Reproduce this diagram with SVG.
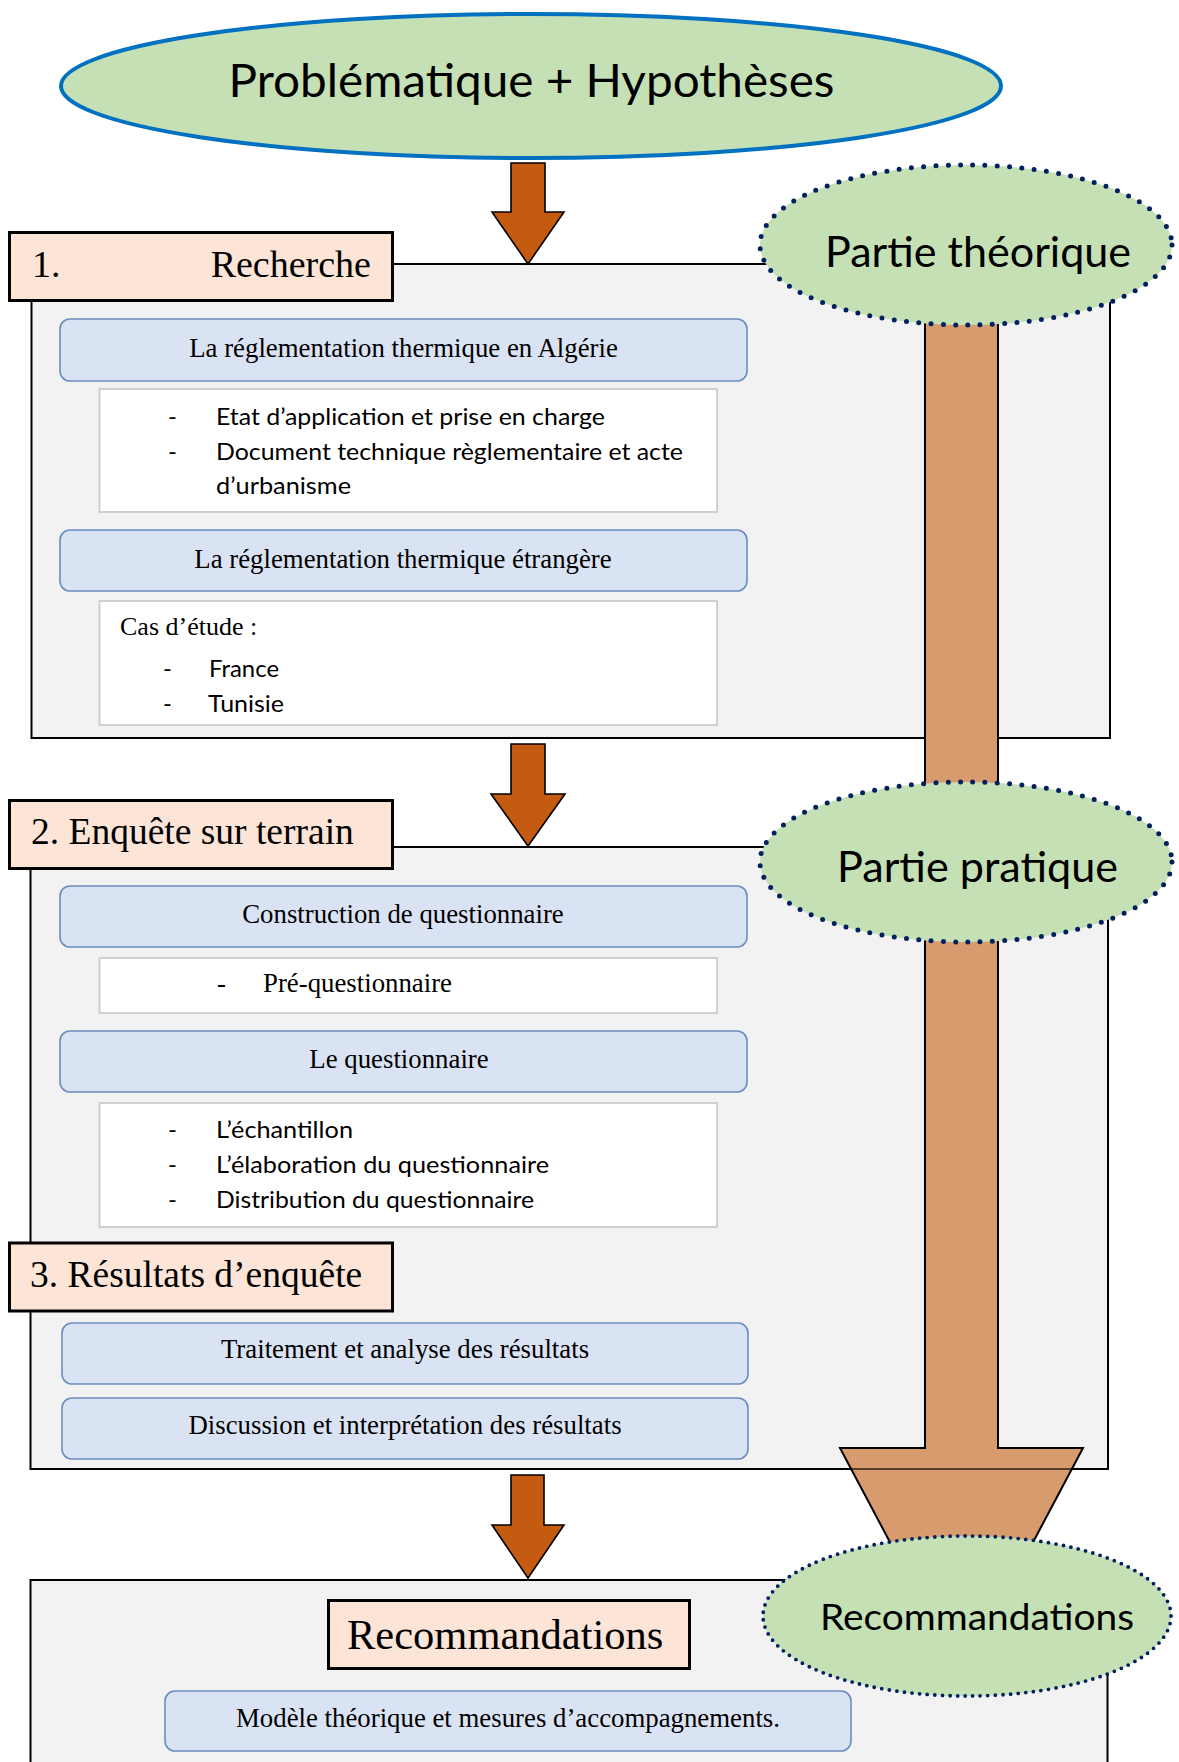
<svg xmlns="http://www.w3.org/2000/svg" width="1179" height="1762" viewBox="0 0 1179 1762">
<style>
.bg{fill:#ffffff}
.cont{fill:#f2f2f2;stroke:#000;stroke-width:2}
.lab{fill:#fce4d6;stroke:#000;stroke-width:3}
.blue{fill:#dae3f3;stroke:#6b8cc0;stroke-width:1.6}
.white{fill:#ffffff;stroke:#d0cece;stroke-width:2}
.dots{fill:#c5e0b4;stroke:#002060;stroke-width:5;stroke-dasharray:0 12.3;stroke-linecap:round}
.dots2{fill:#c5e0b4;stroke:#002060;stroke-width:3.8;stroke-dasharray:0 7.6;stroke-linecap:round}
.oarrow{fill:#c55a11;stroke:#000;stroke-width:1.6;stroke-linejoin:miter}
.bar{fill:#d79b6e;stroke:#000;stroke-width:2}
.serif{font-family:"Liberation Serif","Times New Roman",serif;fill:#000}
.sans{font-family:Lato,"Open Sans","DejaVu Sans",sans-serif;fill:#000}
.t38{font-size:37.5px}
.t26{font-size:26px}
.b27{font-size:26.8px}
.s24{font-size:24px}
</style>
<rect class="bg" x="0" y="0" width="1179" height="1762"/>

<g id="containers">
  <rect id="cont1" class="cont" x="31.5" y="264" width="1078.5" height="474"/>
  <rect id="cont2" class="cont" x="30.5" y="847" width="1077.5" height="622"/>
  <rect id="cont3" class="cont" x="30.5" y="1580" width="1077" height="200"/>
</g>

<g id="label-recherche">
  <rect class="lab" x="9.5" y="232.5" width="383" height="68"/>
  <text class="serif" font-size="38" x="32" y="277">1.</text>
  <text class="serif" font-size="38" x="371" y="277" text-anchor="end">Recherche</text>
</g>

<g id="node-algerie">
  <rect class="blue" x="60" y="319" width="687" height="62" rx="10"/>
  <text class="serif b27" x="403.5" y="357" text-anchor="middle">La réglementation thermique en Algérie</text>
</g>
<g id="node-algerie-list">
  <rect class="white" x="99.5" y="389" width="617.5" height="123"/>
  <text class="sans s24" x="168" y="425">-</text>
  <text class="sans s24" x="216" y="425" textLength="389" lengthAdjust="spacingAndGlyphs">Etat d’application et prise en charge</text>
  <text class="sans s24" x="168" y="460">-</text>
  <text class="sans s24" x="216" y="460" textLength="467" lengthAdjust="spacingAndGlyphs">Document technique règlementaire et acte</text>
  <text class="sans s24" x="216" y="494" textLength="135" lengthAdjust="spacingAndGlyphs">d’urbanisme</text>
</g>

<g id="node-etrangere">
  <rect class="blue" x="60" y="530" width="687" height="61" rx="10"/>
  <text class="serif b27" x="403" y="568" text-anchor="middle">La réglementation thermique étrangère</text>
</g>
<g id="node-cas">
  <rect class="white" x="99.5" y="601" width="617.5" height="124"/>
  <text class="serif t26" x="120" y="635">Cas d’étude :</text>
  <text class="sans s24" x="163" y="677">-</text>
  <text class="sans s24" x="209" y="677" textLength="70" lengthAdjust="spacingAndGlyphs">France</text>
  <text class="sans s24" x="163" y="712">-</text>
  <text class="sans s24" x="208" y="712" textLength="76" lengthAdjust="spacingAndGlyphs">Tunisie</text>
</g>

<g id="label-enquete">
  <rect class="lab" x="9.5" y="800.5" width="383" height="68"/>
  <text class="serif t38" x="31" y="844">2. Enquête sur terrain</text>
</g>

<g id="node-construction">
  <rect class="blue" x="60" y="886" width="687" height="61" rx="10"/>
  <text class="serif b27" x="403" y="923" text-anchor="middle">Construction de questionnaire</text>
</g>
<g id="node-pre">
  <rect class="white" x="99.5" y="958" width="617.5" height="55"/>
  <text class="serif b27" x="217" y="992">-</text>
  <text class="serif b27" x="263" y="992">Pré-questionnaire</text>
</g>
<g id="node-questionnaire">
  <rect class="blue" x="60" y="1031" width="687" height="61" rx="10"/>
  <text class="serif b27" x="399" y="1068" text-anchor="middle">Le questionnaire</text>
</g>
<g id="node-q-list">
  <rect class="white" x="99.5" y="1103" width="617.5" height="124"/>
  <text class="sans s24" x="168" y="1138">-</text>
  <text class="sans s24" x="216" y="1138" textLength="137" lengthAdjust="spacingAndGlyphs">L’échantillon</text>
  <text class="sans s24" x="168" y="1173">-</text>
  <text class="sans s24" x="216" y="1173" textLength="333" lengthAdjust="spacingAndGlyphs">L’élaboration du questionnaire</text>
  <text class="sans s24" x="168" y="1208">-</text>
  <text class="sans s24" x="216" y="1208" textLength="318" lengthAdjust="spacingAndGlyphs">Distribution du questionnaire</text>
</g>

<g id="label-resultats">
  <rect class="lab" x="9.5" y="1243" width="383" height="68"/>
  <text class="serif t38" x="30" y="1287">3. Résultats d’enquête</text>
</g>
<g id="node-traitement">
  <rect class="blue" x="62" y="1323" width="686" height="61" rx="10"/>
  <text class="serif b27" x="405" y="1358" text-anchor="middle">Traitement et analyse des résultats</text>
</g>
<g id="node-discussion">
  <rect class="blue" x="62" y="1398" width="686" height="61" rx="10"/>
  <text class="serif b27" x="405" y="1434" text-anchor="middle">Discussion et interprétation des résultats</text>
</g>

<g id="label-recommandations">
  <rect class="lab" x="328.5" y="1600.5" width="361" height="68"/>
  <text class="serif" font-size="42.5" x="347" y="1649">Recommandations</text>
</g>
<g id="node-modele">
  <rect class="blue" x="165" y="1691" width="686" height="60" rx="10"/>
  <text class="serif b27" x="508" y="1727" text-anchor="middle">Modèle théorique et mesures d’accompagnements.</text>
</g>

<g id="connectors">
  <polygon id="big-arrow" class="bar" points="925,300 998,300 998,1448 1083,1448 961.5,1677 840,1448 925,1448"/>
  <line x1="845" y1="1469" x2="1078" y2="1469" stroke="#000" stroke-opacity="0.6" stroke-width="2"/>
  <polygon id="arrow1" class="oarrow" points="511,163 545,163 545,212 564,212 528,264 492,212 511,212"/>
  <polygon id="arrow2" class="oarrow" points="511,744 545,744 545,794 565,794 528,846 491,794 511,794"/>
  <polygon id="arrow3" class="oarrow" points="511,1475 544,1475 544,1525 564,1525 528,1578 492,1525 511,1525"/>
</g>

<g id="node-problematique">
  <ellipse cx="531" cy="86" rx="470" ry="72" fill="#c5e0b4" stroke="#0070c0" stroke-width="4"/>
  <text class="sans" font-size="46" x="531.5" y="97" text-anchor="middle" textLength="606" lengthAdjust="spacingAndGlyphs">Problématique + Hypothèses</text>
</g>
<g id="node-theorique">
  <ellipse class="dots" cx="966" cy="245" rx="206" ry="80"/>
  <text class="sans" font-size="42" x="825" y="267" textLength="306" lengthAdjust="spacingAndGlyphs">Partie théorique</text>
</g>
<g id="node-pratique">
  <ellipse class="dots" cx="966" cy="862" rx="206" ry="80"/>
  <text class="sans" font-size="42" x="837" y="882" textLength="281" lengthAdjust="spacingAndGlyphs">Partie pratique</text>
</g>
<g id="node-recommandations">
  <ellipse class="dots2" cx="967" cy="1616" rx="204" ry="80"/>
  <text class="sans" font-size="37" x="820" y="1630" textLength="314" lengthAdjust="spacingAndGlyphs">Recommandations</text>
</g>
</svg>
